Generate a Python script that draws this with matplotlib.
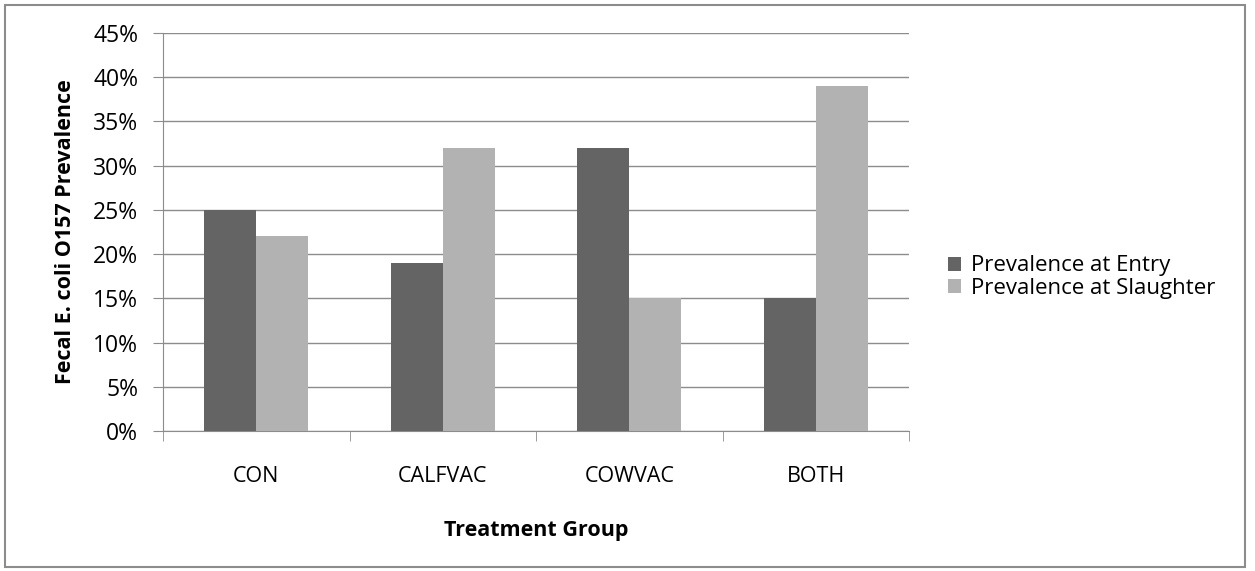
import matplotlib
matplotlib.use("Agg")
import matplotlib.pyplot as plt
from matplotlib.patches import Rectangle
from matplotlib.ticker import FuncFormatter, FixedLocator
import numpy as np

groups = ["CON", "CALFVAC", "COWVAC", "BOTH"]
entry = [25, 19, 32, 15]
slaughter = [22, 32, 15, 39]
series_names = ["Prevalence at Entry", "Prevalence at Slaughter"]

plt.rcParams['font.family'] = ['Open Sans', 'DejaVu Sans']

W, H = 1255, 571
fig = plt.figure(figsize=(W / 100, H / 100), dpi=100)
ax = fig.add_axes([163 / W, 1 - 431 / H, (909 - 163) / W, (431 - 33) / H])

x = np.arange(len(groups))
bw = 0.28
ax.bar(x - bw / 2, entry, bw, color="#646464", label=series_names[0], zorder=3)
ax.bar(x + bw / 2, slaughter, bw, color="#b2b2b2", label=series_names[1], zorder=3)

ax.set_xlim(-0.5, len(groups) - 0.5)
ax.set_ylim(0, 45)
ax.set_yticks(range(0, 46, 5))
ax.yaxis.set_major_formatter(FuncFormatter(lambda v, p: f"{int(v)}%"))
ax.grid(axis="y", color="#8c8c8c", linewidth=1, zorder=0)

ax.set_xticks(x)
ax.set_xticklabels(groups, fontsize=15.5)
ax.xaxis.set_minor_locator(FixedLocator(np.arange(-0.5, len(groups), 1)))
ax.tick_params(axis="x", which="major", length=0, pad=25)
ax.tick_params(axis="x", which="minor", length=7, color="#8c8c8c", direction="out")
ax.tick_params(axis="y", length=7, color="#8c8c8c", labelsize=16.5, pad=11)

for s in ["top", "right"]:
    ax.spines[s].set_visible(False)
for s in ["left", "bottom"]:
    ax.spines[s].set_color("#8c8c8c")

ax.set_ylabel("Fecal E. coli O157 Prevalence", fontsize=15.5, fontweight="bold", labelpad=12)
ax.set_xlabel("Treatment Group", fontsize=15.5, fontweight="bold", labelpad=24)

fig.legend(*ax.get_legend_handles_labels(), loc="center left",
           bbox_to_anchor=(948 / W, 1 - 277 / H), frameon=False,
           fontsize=16, handlelength=0.6, handleheight=0.6, handletextpad=0.45,
           labelspacing=0.05, borderpad=0, borderaxespad=0)

fig.patches.append(Rectangle((5 / W, 4 / H), (1245 - 5) / W, (566 - 4) / H,
                             transform=fig.transFigure, fill=False,
                             edgecolor="#8c8c8c", linewidth=1.5))

fig.savefig("out.png", dpi=100)
